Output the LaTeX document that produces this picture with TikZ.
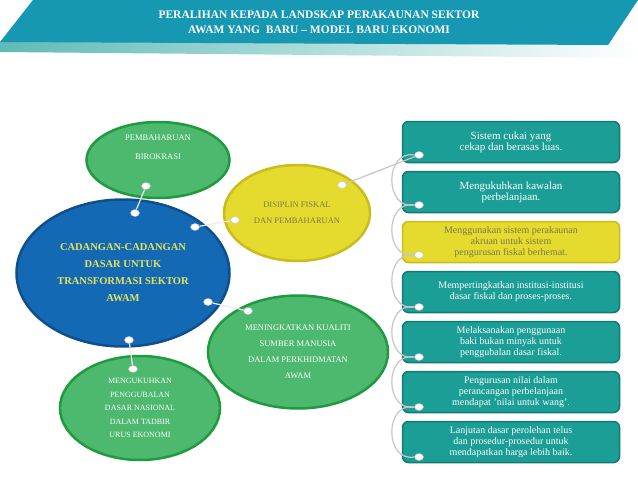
\documentclass[tikz,border=0pt]{standalone}
\usepackage{fontspec}
\setmainfont{Liberation Serif}
\usetikzlibrary{shapes.geometric}
\definecolor{teal1}{HTML}{1A9E96}
\definecolor{tealb}{HTML}{137A72}
\definecolor{grn}{HTML}{4CB96E}
\definecolor{grnb}{HTML}{1F9A3E}
\definecolor{ylw}{HTML}{E5DA2E}
\definecolor{ylwb}{HTML}{C9BC1C}
\definecolor{blu}{HTML}{1469B5}
\definecolor{blub}{HTML}{0E4F8C}
\definecolor{bluetxt}{HTML}{E6E35A}
\definecolor{ytxt}{HTML}{7E7A4A}
\definecolor{hdr}{HTML}{1697B2}
\begin{document}
\begin{tikzpicture}[x=1pt,y=-1pt,
  ell/.style={ellipse,draw=grnb,line width=2.5pt,fill=grn,text=white,align=center,font=\fontsize{8.5}{16}\selectfont,inner sep=0pt},
  box/.style={rectangle,rounded corners=6pt,draw=tealb,line width=1.5pt,fill=teal1,text=white,align=center,minimum width=217pt,minimum height=41pt,font=\fontsize{10}{11}\selectfont,inner sep=1pt},
  dot/.style={ellipse,fill=white,draw=gray!50,minimum width=9pt,minimum height=7pt,inner sep=0pt},
  lnk/.style={draw=white!85!gray,line width=1.2pt},
  crv/.style={draw=gray!45,line width=1.2pt}]
\useasboundingbox (0,0) rectangle (638,479);
\fill[white] (0,0) rectangle (638,479);
\shade[left color=teal1!70,right color=white] (0,42) -- (638,42) -- (638,58) -- (0,52) -- cycle;
\fill[hdr] (33,0) -- (638,0) -- (608,45) -- (0,42) -- cycle;
\node[text=white,font=\bfseries\fontsize{11.5}{15}\selectfont,align=center] (title) at (319,22) {PERALIHAN KEPADA LANDSKAP PERAKAUNAN SEKTOR\\AWAM YANG\ \ BARU -- MODEL BARU EKONOMI};
% ellipses
\node[ell,font=\fontsize{8.5}{19}\selectfont,minimum width=143pt,minimum height=76pt] (e1) at (158,160) {PEMBAHARUAN\\BIROKRASI\\[6pt]};
\node[ell,draw=ylwb,fill=ylw,text=ytxt,minimum width=146pt,minimum height=96pt] (e2) at (297,213) {DISIPLIN FISKAL\\DAN PEMBAHARUAN};
\node[ell,draw=blub,fill=blu,text=bluetxt,font=\bfseries\fontsize{10.5}{17}\selectfont,minimum width=213pt,minimum height=147pt] (e0) at (123,273) {CADANGAN-CADANGAN\\DASAR UNTUK\\TRANSFORMASI SEKTOR\\AWAM};
\node[ell,minimum width=180pt,minimum height=113pt] (e3) at (298,352) {MENINGKATKAN KUALITI\\SUMBER MANUSIA\\DALAM PERKHIDMATAN\\AWAM};
\node[ell,font=\fontsize{8}{13.5}\selectfont,minimum width=160pt,minimum height=104pt] (e4) at (140,408) {MENGUKUHKAN\\PENGGUBALAN\\DASAR NASIONAL\\DALAM TADBIR\\URUS EKONOMI};
% boxes
\node[box] (b1) at (511,142) {\fontsize{11}{16}\selectfont Sistem cukai yang\\\fontsize{11}{16}\selectfont cekap dan berasas luas.};
\node[box] (b2) at (511,192) {\fontsize{11}{16}\selectfont Mengukuhkan kawalan\\\fontsize{11}{16}\selectfont perbelanjaan.};
\node[box,draw=ylwb,fill=ylw,text=ytxt] (b3) at (511,242) {Menggunakan sistem perakaunan\\akruan untuk sistem\\pengurusan fiskal berhemat.};
\node[box] (b4) at (511,292) {Mempertingkatkan institusi-institusi\\dasar fiskal dan proses-proses.};
\node[box] (b5) at (511,342) {Melaksanakan penggunaan\\baki bukan minyak untuk\\penggubalan dasar fiskal.};
\node[box] (b6) at (511,392) {Pengurusan nilai dalam\\perancangan perbelanjaan\\mendapat 'nilai untuk wang'.};
\node[box] (b7) at (511,442) {Lanjutan dasar perolehan telus\\dan prosedur-prosedur untuk\\mendapatkan harga lebih baik.};
% dots
\node[dot] (d1a) at (146,186) {}; \node[dot] (d0a) at (135,213) {};
\node[dot] (d0b) at (195,227) {}; \node[dot] (d2a) at (235,220) {};
\node[dot] (d0c) at (208,302) {}; \node[dot] (d3a) at (248,311) {};
\node[dot] (d0d) at (129,340) {}; \node[dot] (d4a) at (133,369) {};
\node[dot] (d2b) at (342,185) {};
\node[dot] (p1) at (419,155) {};
\node[dot] (p2) at (419,205) {};
\node[dot] (p3) at (419,255) {};
\node[dot] (p4) at (419,307) {};
\node[dot] (p5) at (419,357) {};
\node[dot] (p6) at (419,407) {};
\node[dot] (p7) at (419,457) {};
\draw[lnk] (d1a) -- (d0a);
\draw[lnk] (d0b) -- (d2a);
\draw[lnk] (d0c) -- (d3a);
\draw[lnk] (d0d) -- (d4a);
\draw[crv] (d2b) -- (p1);
\foreach \a/\b in {p1/p2,p2/p3,p3/p4,p4/p5,p5/p6,p6/p7}
  \draw[crv] (\a.west) .. controls +(-30pt,5pt) and +(-30pt,-5pt) .. (\b.west);
\end{tikzpicture}
\end{document}
